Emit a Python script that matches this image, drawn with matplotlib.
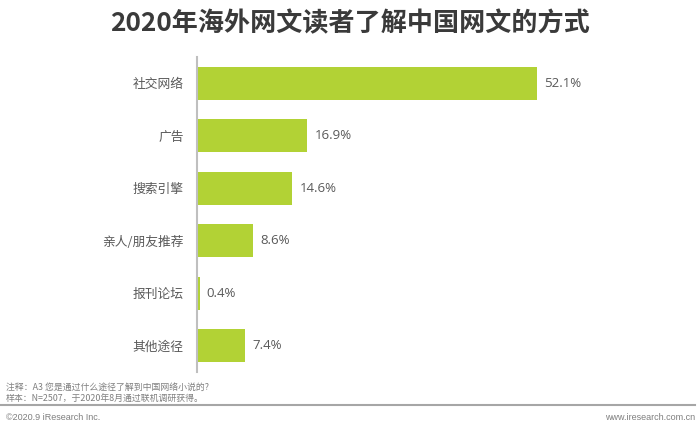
import matplotlib.pyplot as plt
import matplotlib.lines as mlines

plt.rcParams['font.family'] = ['Noto Sans CJK SC', 'DejaVu Sans']

categories = ["社交网络", "广告", "搜索引擎", "亲人/朋友推荐", "报刊论坛", "其他途径"]
values = [52.1, 16.9, 14.6, 8.6, 0.4, 7.4]

bar_color = "#B2D235"
text_color = "#595959"

fig = plt.figure(figsize=(7, 4.29), dpi=100)
W, H = 700, 429

# axes in pixel coordinates: left 197, top 57, bottom 372
x0, x_end = 197, 537
xmax = 60
width_px = (x_end - x0) / values[0] * xmax
ax = fig.add_axes([x0 / W, 1 - 372 / H, width_px / W, (372 - 57) / H])

ypos = range(len(categories))
ax.barh(ypos, values, height=0.63, color=bar_color)
ax.set_xlim(0, xmax)
ax.set_ylim(len(categories) - 0.5, -0.5)
ax.set_yticks(list(ypos))
ax.set_yticklabels(categories, fontsize=9.2, color=text_color)
ax.tick_params(axis='y', length=0, pad=9.5)
ax.set_xticks([])
for s in ["top", "right", "bottom"]:
    ax.spines[s].set_visible(False)
ax.spines["left"].set_color("#BFBFBF")
ax.spines["left"].set_linewidth(1.5)

for y, v in zip(ypos, values):
    ax.text(v + 1.1, y, f"{v}%", va="center", ha="left", fontsize=9.5, color=text_color,
            family=["Open Sans", "DejaVu Sans"])

fig.text(0.5, 1 - 24 / H, "2020年海外网文读者了解中国网文的方式", ha="center", va="center",
         fontsize=18.8, fontweight="bold", color="#3A3A3A")

fig.text(6 / W, 1 - 387 / H, "注释：A3 您是通过什么途径了解到中国网络小说的?", fontsize=6.4,
         color="#7F7F7F", va="center")
fig.text(6 / W, 1 - 398 / H, "样本：N=2507，于2020年8月通过联机调研获得。", fontsize=6.4,
         color="#7F7F7F", va="center")
fig.add_artist(mlines.Line2D([0, 695 / W], [1 - 405 / H, 1 - 405 / H], color="#A6A6A6",
                             linewidth=1.5, transform=fig.transFigure))
fig.text(6 / W, 1 - 418 / H, "©2020.9 iResearch Inc.", fontsize=6.5, color="#7F7F7F", va="center",
         family=["Liberation Sans", "DejaVu Sans"])
fig.text(695 / W, 1 - 418 / H, "www.iresearch.com.cn", fontsize=6.5, color="#7F7F7F",
         va="center", ha="right", family=["Liberation Sans", "DejaVu Sans"])

fig.savefig("out.png", dpi=100)
